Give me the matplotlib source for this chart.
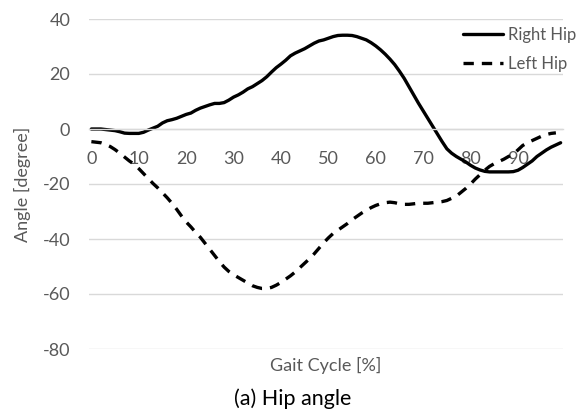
import matplotlib
matplotlib.use("Agg")
import matplotlib.pyplot as plt

# gait cycle samples, one per percent
gait_pct = list(range(100))

right_hip = [
    0.0, 0.0, 0.0, -0.2, -0.4, -0.6, -1.0, -1.5, -1.6, -1.6,
    -1.6, -1.2, -0.4, 0.3, 1.0, 2.2, 3.0, 3.4, 3.9, 4.6,
    5.3, 5.8, 6.8, 7.6, 8.2, 8.8, 9.3, 9.3, 9.6, 10.5,
    11.6, 12.4, 13.4, 14.6, 15.4, 16.5, 17.6, 19.0, 20.7, 22.3,
    23.6, 25.0, 26.6, 27.6, 28.4, 29.2, 30.2, 31.2, 32.0, 32.4,
    33.0, 33.6, 34.0, 34.1, 34.1, 34.0, 33.6, 33.0, 32.4, 31.4,
    30.2, 28.8, 27.2, 25.4, 23.4, 21.0, 18.4, 15.4, 12.4, 9.4,
    6.6, 3.8, 1.0, -1.8, -4.6, -7.2, -8.8, -10.0, -11.0, -12.0,
    -13.2, -14.2, -14.9, -15.4, -15.6, -15.6, -15.6, -15.6, -15.6, -15.5,
    -15.0, -14.0, -12.8, -11.6, -10.0, -8.8, -7.6, -6.6, -5.8, -5.0,
]

left_hip = [
    -4.6, -4.8, -5.0, -5.6, -6.4, -7.5, -8.8, -10.2, -11.6, -12.8,
    -14.4, -16.2, -18.0, -19.8, -21.4, -23.2, -25.0, -27.0, -29.2, -31.6,
    -33.8, -35.6, -37.6, -39.4, -41.6, -43.8, -46.0, -48.2, -50.2, -51.8,
    -53.0, -54.0, -55.0, -56.0, -57.0, -57.6, -58.0, -58.0, -57.6, -56.8,
    -55.8, -54.6, -53.4, -52.0, -50.4, -48.8, -47.2, -45.4, -43.4, -41.4,
    -39.6, -38.0, -36.8, -35.6, -34.4, -33.0, -31.8, -30.6, -29.6, -28.6,
    -27.8, -27.2, -26.8, -26.6, -26.8, -27.2, -27.4, -27.4, -27.2, -27.0,
    -27.0, -27.0, -26.8, -26.6, -26.4, -26.0, -25.2, -24.4, -23.0, -21.6,
    -20.0, -18.2, -16.6, -15.0, -13.6, -12.6, -11.8, -11.0, -10.0, -9.2,
    -7.6, -6.0, -5.0, -4.2, -3.4, -2.6, -2.0, -1.6, -1.4,
]

x_ticks = [0, 10, 20, 30, 40, 50, 60, 70, 80, 90]
y_ticks = [-80, -60, -40, -20, 0, 20, 40]

GREY = "#595959"
GRID = "#D9D9D9"

plt.rcParams["font.family"] = ["Lato", "DejaVu Sans"]
plt.rcParams["axes.unicode_minus"] = False

fig = plt.figure(figsize=(5.85, 4.11), dpi=100)
ax = fig.add_axes([89 / 585, 1 - 349 / 411, 474 / 585, 330 / 411])

ax.plot(gait_pct, right_hip, color="black", lw=2.4, label="Right Hip",
        solid_capstyle="round", solid_joinstyle="round")
ax.plot(gait_pct[:len(left_hip)], left_hip, color="black", lw=2.4,
        linestyle=(0, (3.1, 2.4)), label="Left Hip")

ax.set_xlim(-0.5, 99.5)
ax.set_ylim(-80, 40)
ax.set_yticks(y_ticks)
ax.set_xticks(x_ticks)
ax.yaxis.grid(True, color=GRID, lw=1)
ax.set_axisbelow(True)

for side in ["top", "right", "left"]:
    ax.spines[side].set_visible(False)
ax.spines["bottom"].set_position(("data", 0))
ax.spines["bottom"].set_color(GRID)
ax.spines["bottom"].set_linewidth(1)

ax.tick_params(axis="both", length=0, labelsize=13, labelcolor=GREY)
ax.tick_params(axis="x", pad=15.5)
ax.tick_params(axis="y", pad=13.5)

ax.set_ylabel("Angle [degree]", color=GREY, fontsize=13)
ax.yaxis.set_label_coords(-0.122, 0.5)
fig.text(326 / 585, 1 - 365 / 411, "Gait Cycle [%]", color=GREY, fontsize=13,
         ha="center", va="center")
fig.text(0.5, 1 - 399 / 411, "(a) Hip angle", color="black", fontsize=15.5,
         ha="center", va="center")

ax.legend(loc="upper left", bbox_to_anchor=(463 / 585, 1 - 27 / 411),
          bbox_transform=fig.transFigure, frameon=False, fontsize=12,
          labelcolor=GREY, handlelength=2.4, handletextpad=0.3,
          labelspacing=0.75, borderaxespad=0, borderpad=0)

fig.savefig("out.png", dpi=100)
